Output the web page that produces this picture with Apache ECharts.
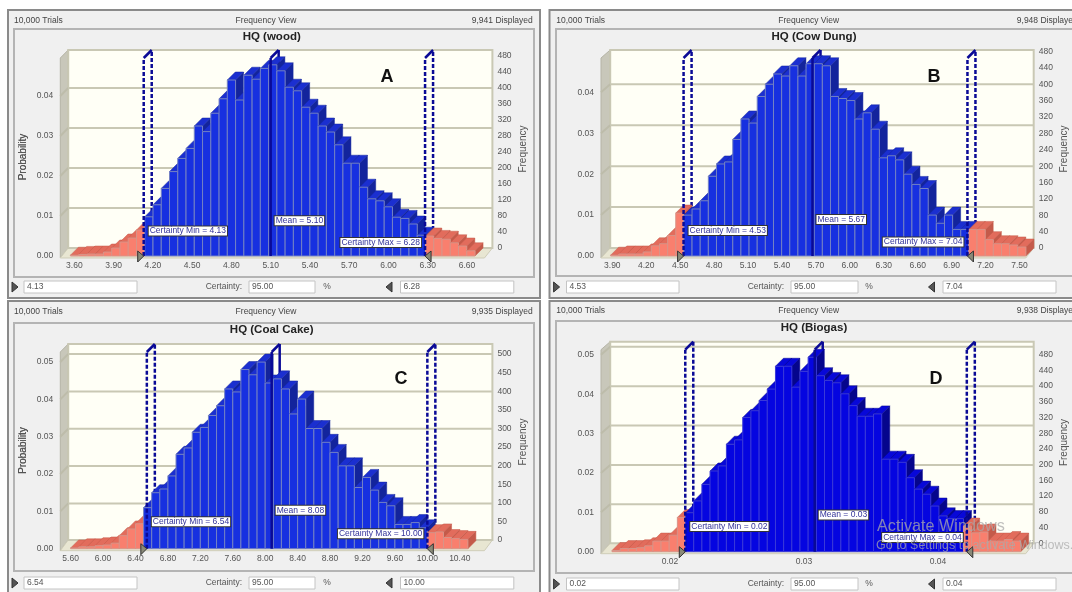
<!DOCTYPE html>
<html><head><meta charset="utf-8">
<style>html,body{margin:0;padding:0;background:#fff;overflow:hidden}#c{width:1072px;height:592px}</style>
<script src="https://cdn.jsdelivr.net/npm/echarts@6/dist/echarts.min.js"></script>
</head><body><div id="c"></div>
<script>
// ---- values (probability per bin) ----
const binsA=[.0002,.0004,.0005,.0005,.001,.002,.0035,.0045,.0065,.0098,.0128,.0169,.0211,.0244,.0269,.0325,.0311,.0357,.0393,.044,.039,.0452,.0442,.0469,.0478,.0463,.0422,.0413,.0372,.0357,.0325,.031,.0278,.0232,.0232,.0172,.0143,.0138,.0123,.0097,.0094,.008,.0052,.005,.0044,.0042,.0033,.0025,.0013];
const binsB=[.0002,.0005,.0005,.0005,.001,.0025,.003,.005,.0105,.01,.0115,.0135,.0195,.0225,.023,.0285,.0335,.0325,.039,.042,.0445,.044,.0465,.044,.047,.047,.0465,.039,.0385,.038,.0335,.035,.031,.024,.0245,.0235,.02,.0175,.0165,.01,.008,.01,.0065,.0065,.0065,.0065,.004,.003,.003,.0027,.0022];
const binsC=[.0002,.0005,.0005,.0008,.001,.0015,.0035,.0053,.0067,.011,.015,.016,.0195,.0253,.027,.0312,.0325,.0357,.0383,.0428,.042,.048,.0466,.05,.0444,.0455,.0428,.0361,.0401,.0322,.0322,.0285,.0258,.0222,.0222,.0164,.0191,.0157,.0124,.0115,.0065,.0065,.007,.0056,.0043,.0045,.003,.0027,.0025];
const binsD=[.0003,.0008,.0008,.001,.0015,.0027,.0027,.0042,.0087,.0099,.0129,.0171,.0205,.0218,.0273,.0284,.0341,.0358,.0384,.0413,.0471,.0471,.0418,.0458,.0494,.0447,.0435,.0429,.0401,.0371,.0344,.0344,.035,.0235,.0235,.0227,.0188,.0159,.0146,.0116,.0091,.0084,.0084,.0065,.0048,.005,.0027,.0027,.0031,.0027];
const titles=['HQ (wood)','HQ (Cow Dung)','HQ (Coal Cake)','HQ (Biogas)'];
const letters=['A','B','C','D'];
const displayed=['9,941 Displayed','9,948 Displayed','9,935 Displayed','9,938 Displayed'];
const certMin=[4.13,4.53,6.54,.02114];
const certMax=[6.28,7.04,10.00,.04215];
const means=[5.10,5.67,8.08,.0308];
const minText=['4.13','4.53','6.54','0.02'];
const maxText=['6.28','7.04','10.00','0.04'];
const meanText=['5.10','5.67','8.08','0.03'];
const binStart=[3.57,3.885,5.6,.01567];
const binWidth=[.0631,.072,.1,.00061];
const xRange=[[3.3,6.9,.3],[3.6,7.8,.3],[5.2,10.8,.4],[.01,.05,.01]];
const probTop=[.0495,.0484,.0527,.0513];
const freqStep=[40,40,50,40];
const labelLevels=[[.00625,.0088,.0034],[.00625,.0089,.0034],[.0072,.0103,.004],[.0064,.0093,.0036]];

// ---- layout ----
const L={
 A:{outer:[8,10,532,288],inner:[14,29,520,248],grid:[35.1,471.1],wall:[68.2,492.4,50,248],frontL:60.3,frontB:256,hdr:21,title:37,tx:271.7,trials:14,view:266,disp:532.7,dispAlign:'right',box:[[24,137],[249,315],[400.5,513.8]],boxY:[281,293],cert:242,pct:327,triL:12,triR:386,let:[387,77]},
 B:{outer:[549.5,10,560,288],inner:[556,29,540,247],grid:[578.4,475],wall:[610.2,1033.7,50,248],frontL:601,frontB:256,hdr:21,title:37,tx:814,trials:556.3,view:808.7,disp:1016.8,dispAlign:'left',box:[[566.5,679],[791,858],[943,1056]],boxY:[281,293],cert:784,pct:869,triL:553.6,triR:928.5,let:[934,77]},
 C:{outer:[8,301,532,320],inner:[14,323,520,248],grid:[38.2,454],wall:[68.2,492.4,344,540],frontL:60.3,frontB:548.7,hdr:312,title:330,tx:271.7,trials:14,view:266,disp:532.7,dispAlign:'right',box:[[24,137],[249,315],[400.5,513.8]],boxY:[577,589],cert:242,pct:327,triL:12,triR:386,let:[401,379]},
 D:{outer:[549.5,301,560,320],inner:[556,321,540,252],grid:[536,536],wall:[610.2,1033.7,341.7,543.3],frontL:601,frontB:551.7,hdr:311,title:328,tx:814,trials:556.3,view:808.7,disp:1016.8,dispAlign:'left',box:[[566.5,679],[791,858],[943,1056]],boxY:[578,590],cert:784,pct:869,triL:553.6,triR:928.5,let:[936,379]}
};
const FONT='"Liberation Sans",Arial,sans-serif';
const DX=8,DY=8;
const BLUE=['#1730e0','#1b2fd0','#13249c','#7482c4'];
const BLUE_D=['#0505e0','#0808d8','#05058c','#3a3ad8'];
const PINK=['#f97f6e','#e26c5c','#c45a4a','#d89488'];
const LINE='#0a0a96';

const grids=[],xAxes=[],yAxes=[],series=[],graphic=[];
function txt(text,x,y,font,fill,align,z){graphic.push({type:'text',silent:true,z:z||20,style:{text,x,y,font:font+' '+FONT,fill,textAlign:align||'left',textVerticalAlign:'middle'}});}
function rect(x,y,w,h,fill,stroke,lw,z){graphic.push({type:'rect',silent:true,z:z,shape:{x,y,width:w,height:h},style:{fill,stroke,lineWidth:lw||1}});}
function poly(pts,fill,stroke,z){graphic.push({type:'polygon',silent:true,z:z,shape:{points:pts},style:{fill,stroke:stroke||null,lineWidth:1}});}

letters.forEach((k,p)=>{
 const g=L[k],bins=[binsA,binsB,binsC,binsD][p],w=binWidth[p],colors=p===3?BLUE_D:BLUE;
 const [wl,wr,wt,wb]=g.wall;
 // chrome
 rect(g.outer[0],g.outer[1],g.outer[2],g.outer[3],'#f0f0f0','#8a8a8a',2,-30);
 rect(g.inner[0],g.inner[1],g.inner[2],g.inner[3],'#f0f0f0','#b4b4b4',2,-29);
 poly([[g.frontL,wt+DY],[wl,wt],[wl,wb],[g.frontL,g.frontB+2]],'#c8c7ba','#b5b4a6',-28);
 poly([[g.frontL,g.frontB+2],[wl,wb],[wr,wb],[wr-8,g.frontB+2]],'#e8e6d2','#cfcdb8',-28);
 txt('10,000 Trials',g.trials,g.hdr,'8.5px','#444');
 txt('Frequency View',g.view,g.hdr,'8.5px','#444','center');
 txt(displayed[p],g.disp,g.hdr,'8.5px','#444',g.dispAlign);
 txt(titles[p],g.tx,g.title,'bold 11.5px','#222','center');
 txt(letters[p],g.let[0],g.let[1],'bold 18px','#111','center');
 g.box.forEach(b=>rect(b[0],g.boxY[0],b[1]-b[0],g.boxY[1]-g.boxY[0],'#fff','#c4c4c4',1,-28));
 const by=(g.boxY[0]+g.boxY[1])/2;
 txt(minText[p],g.box[0][0]+3,by,'8.5px','#555');
 txt('95.00',g.box[1][0]+3,by,'8.5px','#555');
 txt(maxText[p],g.box[2][0]+3,by,'8.5px','#555');
 txt('Certainty:',g.cert,by,'8.5px','#555','right');
 txt('%',g.pct,by,'8.5px','#555','center');
 poly([[g.triL,by-5],[g.triL+6,by],[g.triL,by+5]],'#555','#333',-20);
 poly([[g.triR+6,by-5],[g.triR,by],[g.triR+6,by+5]],'#555','#333',-20);

 // front plane grid: bars, probability axis, value axis
 const gf=grids.length;
 grids.push({left:g.grid[0],width:g.grid[1],top:wt+DY,height:g.frontB-wt-DY,show:false});
 xAxes.push({type:'value',gridIndex:gf,min:xRange[p][0],max:xRange[p][1],interval:xRange[p][2],
  axisLine:{show:false},axisTick:{show:false},splitLine:{show:false},
  axisLabel:{showMinLabel:false,showMaxLabel:false,margin:5,fontSize:8.5,fontFamily:FONT,color:'#555',formatter:v=>v.toFixed(2)}});
 yAxes.push({type:'value',gridIndex:gf,min:0,max:probTop[p],interval:.01,position:'left',offset:-(g.frontL-g.grid[0]),
  name:'Probability',nameLocation:'middle',nameGap:g.frontL-28.4,nameTextStyle:{fontSize:10,fontFamily:FONT,color:'#555'},
  axisLine:{show:false},axisTick:{show:false},splitLine:{show:false},
  axisLabel:{showMaxLabel:false,margin:7,fontSize:8.5,fontFamily:FONT,color:'#555',formatter:v=>v.toFixed(2)}});
 // back wall grid: frequency axis and gridlines
 const gb=grids.length;
 grids.push({left:wl,width:wr-wl,top:wt,height:wb-wt,show:true,backgroundColor:'#fffff6',borderColor:'#c9c8b4',borderWidth:2});
 xAxes.push({type:'value',gridIndex:gb,min:0,max:1,show:false});
 yAxes.push({type:'value',gridIndex:gb,min:0,max:probTop[p]*10000,interval:freqStep[p],position:'right',
  name:'Frequency',nameLocation:'middle',nameGap:26,nameTextStyle:{fontSize:10,fontFamily:FONT,color:'#555'},
  axisLine:{show:false},axisTick:{show:false},splitLine:{show:false},
  axisLabel:{showMaxLabel:false,margin:5,fontSize:8.5,fontFamily:FONT,color:'#555'}});

 const axisBind={xAxisIndex:gf,yAxisIndex:gf,coordinateSystem:'cartesian2d',silent:true,animation:false};
 const dashed=v=>v===means[p]?null:[4,2];
 const lineShape=(a,b,dash)=>({type:'line',shape:{x1:a[0],y1:a[1],x2:b[0],y2:b[1]},style:{stroke:LINE,lineWidth:2.5,lineDash:dash,fill:null},silent:true});
 const marks=[certMin[p],means[p],certMax[p]];
 // gridlines carried on to the front edge of the side wall
 series.push(Object.assign({},axisBind,{type:'custom',z:1,data:[.01,.02,.03,.04,.05].filter(v=>v<probTop[p]).map(v=>[xRange[p][0],v]),encode:{x:0,y:1},
  renderItem(_,api){const c=api.coord([xRange[p][0],api.value(1)]);return {type:'group',children:[
    {type:'line',shape:{x1:g.frontL,y1:c[1],x2:wl,y2:c[1]-DY},style:{stroke:'#bdbcaa',lineWidth:2}},
    {type:'line',shape:{x1:wl,y1:c[1]-DY,x2:wr,y2:c[1]-DY},style:{stroke:'#c9c8b4',lineWidth:2}}]};}}));
 // back part of the certainty and mean markers
 series.push(Object.assign({},axisBind,{type:'custom',z:2,data:marks.map(v=>[v,0]),encode:{x:0,y:1},
  renderItem(_,api){const v=api.value(0),a=api.coord([v,0]),t=api.coord([v,probTop[p]]);
   return lineShape([a[0]+DX,a[1]-DY],[t[0]+DX,t[1]-DY],dashed(v));}}));
 // bars
 series.push(Object.assign({},axisBind,{type:'custom',z:3,data:bins.map((v,i)=>[binStart[p]+i*w,v]),encode:{x:0,y:1},
  renderItem(_,api){const x=api.value(0),v=api.value(1),a=api.coord([x,v]),b=api.coord([x+w,0]);
   const mid=x+w/2,c=(mid<certMin[p]||mid>certMax[p])?PINK:colors;
   const l=a[0],t=a[1],r=b[0],y0=b[1],ed=c[3];
   return {type:'group',children:[
    {type:'polygon',shape:{points:[[r,t],[r+DX,t-DY],[r+DX,y0-DY],[r,y0]]},style:{fill:c[2],stroke:c[2],lineWidth:.5}},
    {type:'polygon',shape:{points:[[l,t],[l+DX,t-DY],[r+DX,t-DY],[r,t]]},style:{fill:c[1],stroke:c[2],lineWidth:.5}},
    {type:'rect',shape:{x:l,y:t,width:r-l,height:y0-t},style:{fill:c[0],stroke:ed,lineWidth:1}}]};}}));
 // front part of markers with the slanted top and sliders
 series.push(Object.assign({},axisBind,{type:'custom',z:4,data:marks.map(v=>[v,0]),encode:{x:0,y:1},
  renderItem(_,api){const v=api.value(0),a=api.coord([v,0]),t=api.coord([v,probTop[p]]);
   const kids=[lineShape(a,t,dashed(v)),lineShape(t,[t[0]+DX,t[1]-DY],null)];
   if(v===certMin[p])kids.push({type:'polygon',shape:{points:[[a[0]-6,a[1]-5],[a[0],a[1]],[a[0]-6,a[1]+6]]},style:{fill:'#8a8a78',stroke:'#333',lineWidth:1}});
   if(v===certMax[p])kids.push({type:'polygon',shape:{points:[[a[0]+6,a[1]-5],[a[0],a[1]],[a[0]+6,a[1]+6]]},style:{fill:'#8a8a78',stroke:'#333',lineWidth:1}});
   return {type:'group',children:kids};}}));
 // marker captions
 const caps=[['Certainty Min = '+minText[p],certMin[p],labelLevels[p][0],5,'left'],['Mean = '+meanText[p],means[p],labelLevels[p][1],4,'left'],['Certainty Max = '+maxText[p],certMax[p],labelLevels[p][2],-4,'right']];
 series.push(Object.assign({},axisBind,{type:'custom',z:6,data:caps.map((c,i)=>[c[1],c[2],i]),encode:{x:0,y:1},
  renderItem(_,api){const i=api.value(2),c=caps[i],a=api.coord([c[1],c[2]]);
   return {type:'text',style:{x:a[0]+c[3],y:a[1],text:c[0],font:'8.5px '+FONT,fill:'#33339a',align:c[4],verticalAlign:'middle',backgroundColor:'#fff',borderColor:'#333',borderWidth:1,padding:[0,1]}};}}));
});
// screen watermark present in the picture
txt('Activate Windows',877,527,'16.2px','rgba(170,170,170,0.75)','left',30);
txt('Go to Settings to activate Windows.',876,546,'12.5px','rgba(170,170,170,0.75)','left',30);

const chart=echarts.init(document.getElementById('c'),null,{renderer:'canvas'});
chart.setOption({animation:false,backgroundColor:'#ffffff',tooltip:{show:false},grid:grids,xAxis:xAxes,yAxis:yAxes,series,graphic:{elements:graphic}});
</script></body></html>
